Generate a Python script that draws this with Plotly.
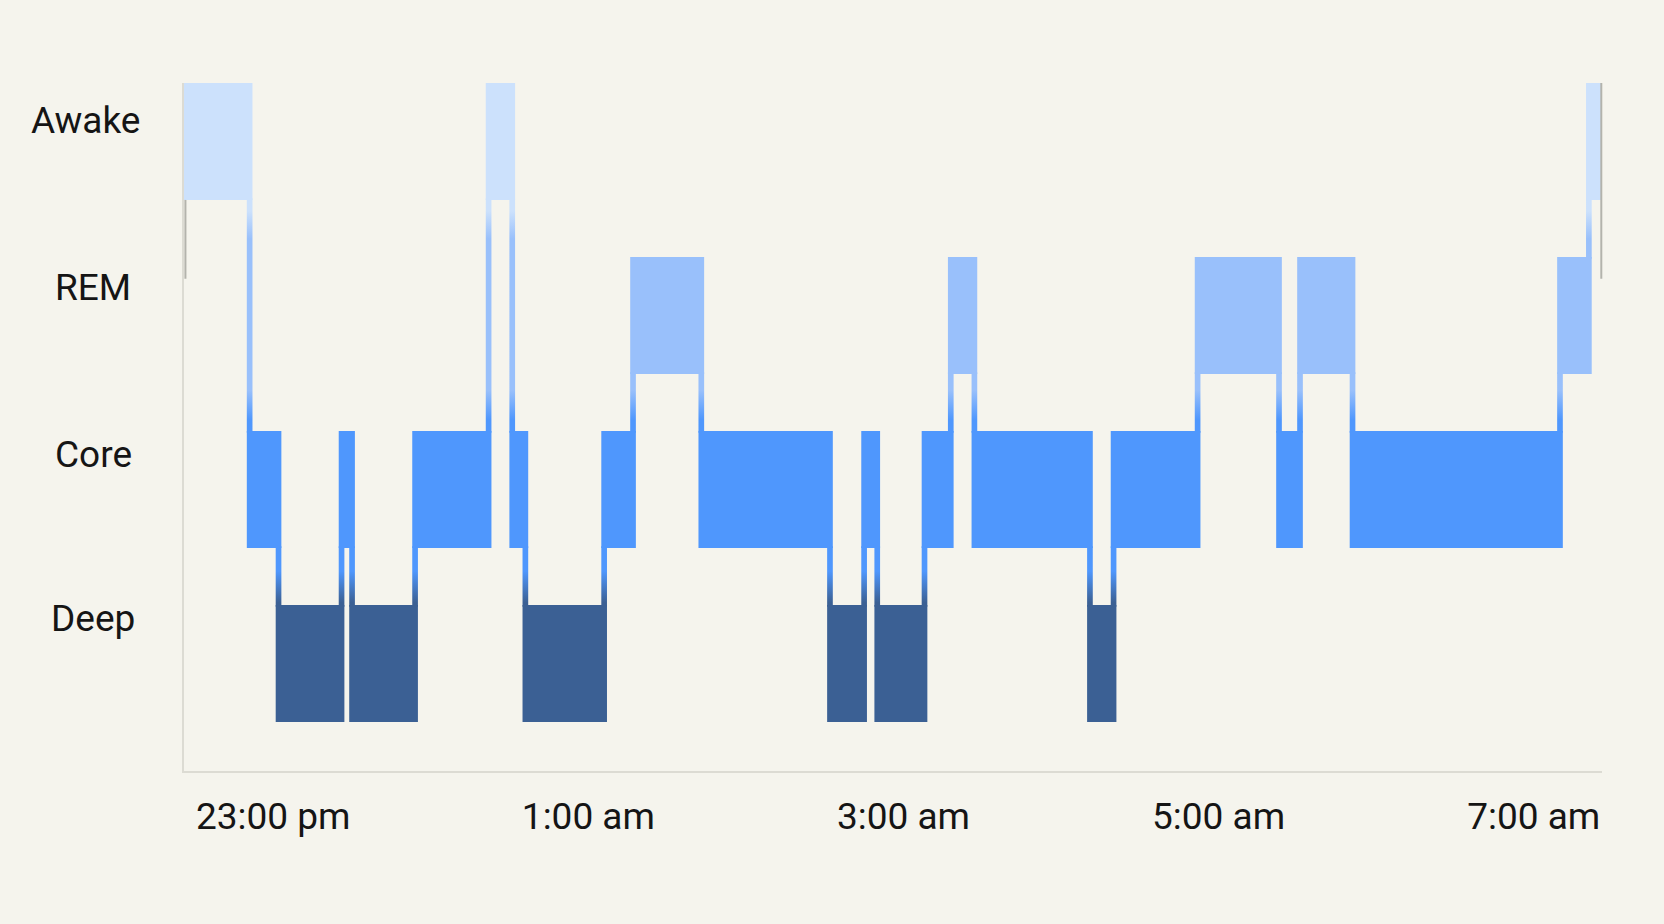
import plotly.graph_objects as go

# sleep stages, bottom to top, and their colours
stage_names = ["Deep", "Core", "REM", "Awake"]
stage_colors = ["#3B6094", "#4F97FD", "#99C0FB", "#CCE1FC"]

# hypnogram: stage of each segment and the time it starts (each lasts until the next one)
seg_stage = ["Awake", "Core", "Deep", "Core", "Deep", "Core", "Awake", "Core",
             "Deep", "Core", "REM", "Core", "Deep", "Core", "Deep", "Core",
             "REM", "Core", "Deep", "Core", "REM", "Core", "REM", "Core",
             "REM", "Awake"]
seg_start = ["22:26", "22:51", "23:02", "23:26", "23:30", "23:54", "00:22", "00:31",
             "00:36", "01:06", "01:17", "01:43", "02:32", "02:45", "02:50", "03:08",
             "03:18", "03:27", "04:11", "04:20", "04:52", "05:23", "05:31", "05:51",
             "07:10", "07:21"]
night_end = "07:26"

tick_times = ["23:00", "01:00", "03:00", "05:00", "07:00"]
tick_labels = ["23:00 pm", "1:00 am", "3:00 am", "5:00 am", "7:00 am"]


def to_hours(s):
    h, m = map(int, s.split(":"))
    v = h + m / 60
    if h < 12:
        v += 24
    return v


HALF = 0.336     # half height of a stage band
W = 0.036        # width of the vertical step, in hours
BG = "#F5F4ED"
AXIS = "#DCDBD3"

starts = [to_hours(s) for s in seg_start]
ends = starts[1:] + [to_hours(night_end)]
levels = [stage_names.index(s) for s in seg_stage]

fig = go.Figure()

# vertical steps between stages, coloured by a gradient over the whole y range
cx, cy = [], []
for i in range(1, len(starts)):
    t = starts[i]
    lo, hi = sorted([levels[i - 1], levels[i]])
    y0, y1 = lo + HALF - 0.01, hi - HALF + 0.01
    cx += [t - W / 2, t + W / 2, t + W / 2, t - W / 2, t - W / 2, None]
    cy += [y0, y0, y1, y1, y0, None]


def norm(v):
    return (v + HALF) / (3 + 2 * HALF)


blend = [(0.35, 0.53), (1.40, 1.57), (2.44, 2.60)]
cscale = [[0, stage_colors[0]]]
for k, (a, b) in enumerate(blend):
    cscale.append([norm(a), stage_colors[k]])
    cscale.append([norm(b), stage_colors[k + 1]])
cscale.append([1, stage_colors[3]])

fig.add_trace(go.Scatter(
    x=cx, y=cy, mode="lines", fill="toself", line=dict(width=0),
    fillgradient=dict(type="vertical", colorscale=cscale, start=-HALF, stop=3 + HALF),
    hoverinfo="skip", showlegend=False))

# stage blocks
for k, name in enumerate(stage_names):
    xs, ys = [], []
    for st, a, b in zip(seg_stage, starts, ends):
        if st != name:
            continue
        x0, x1 = a - W / 2, b + W / 2
        xs += [x0, x1, x1, x0, x0, None]
        ys += [k - HALF, k - HALF, k + HALF, k + HALF, k - HALF, None]
    fig.add_trace(go.Scatter(
        x=xs, y=ys, mode="lines", fill="toself", fillcolor=stage_colors[k],
        line=dict(width=0), name=name, hoverinfo="skip", showlegend=False))

# stage labels on the left
label_y = [0.221, 0.460, 0.703, 0.946]
label_shift = [-91, -91, -91, -99]
for name, y, xs in zip(stage_names, label_y, label_shift):
    fig.add_annotation(text=name, xref="paper", yref="paper", x=0, y=y,
                       xshift=xs, xanchor="center", yanchor="middle",
                       showarrow=False, font=dict(size=37, color="#151515"))

# thin grey marks at both ends of the chart
fig.add_shape(type="line", xref="x domain", yref="y", x0=0.001, x1=0.001,
              y0=2.211, y1=3 - HALF, line=dict(color="#B3B3AC", width=2))
fig.add_shape(type="line", xref="x domain", yref="y", x0=0.9995, x1=0.9995,
              y0=2.211, y1=3 + HALF, line=dict(color="#B3B3AC", width=2))

fig.update_layout(
    width=1664, height=924,
    margin=dict(l=184, r=62, t=83, b=153),
    paper_bgcolor=BG, plot_bgcolor=BG,
    font=dict(family="Roboto", size=37, color="#151515"),
    showlegend=False,
    xaxis=dict(range=[starts[0], ends[-1]],
               tickvals=[to_hours(t) for t in tick_times], ticktext=tick_labels,
               showgrid=False, zeroline=False, showline=True,
               linecolor=AXIS, linewidth=1.5, ticks="", ticklabelstandoff=12),
    yaxis=dict(range=[-0.618, 3 + HALF], showgrid=False, zeroline=False,
               showticklabels=False, showline=True, linecolor=AXIS, linewidth=1.5),
)

fig.write_html("out.html", config={"displayModeBar": False},
               post_script="document.body.style.margin='0';")
